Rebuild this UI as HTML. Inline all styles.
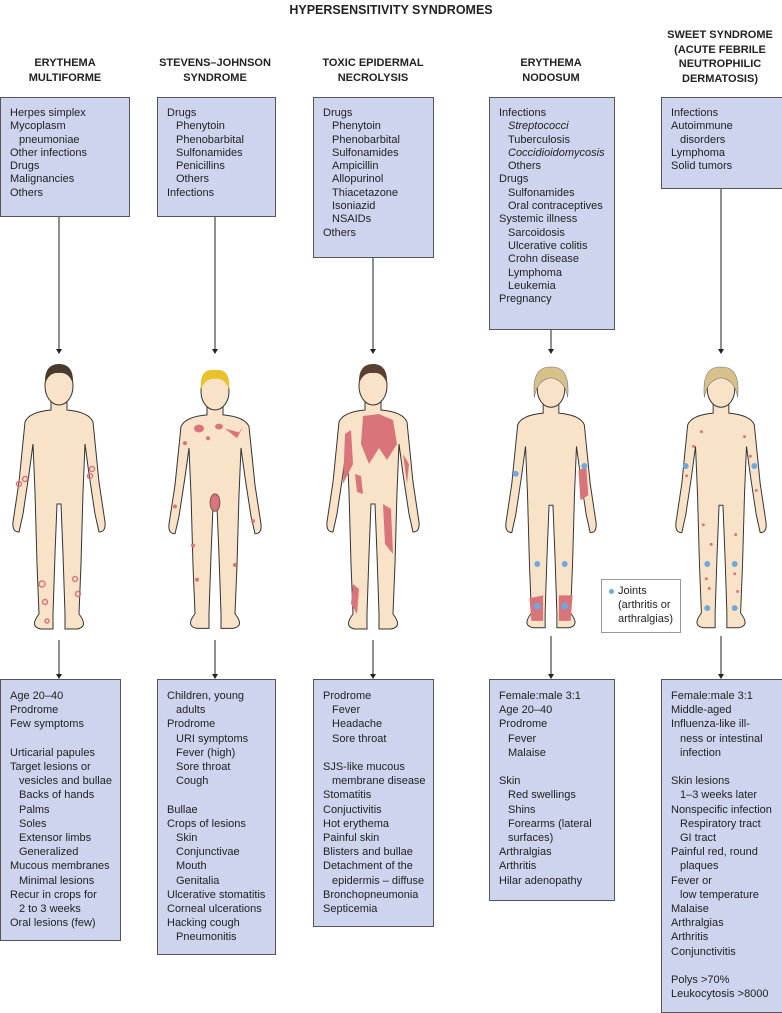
<!DOCTYPE html>
<html><head><meta charset="utf-8"><style>
body{margin:0;background:#fff;width:782px;height:1013px;position:relative;overflow:hidden;font-family:"Liberation Sans",sans-serif;color:#222}
.t{position:absolute;left:0;width:782px;top:3px;text-align:center;font-weight:bold;font-size:12.5px}
.h{position:absolute;text-align:center;font-weight:bold;font-size:11px;line-height:14.5px}
.b{position:absolute;box-sizing:border-box;background:#ced4ee;border:1px solid #555;font-size:11px;padding:9px 0 0 9px;white-space:nowrap}
.top{line-height:13.3px}
.bot{line-height:14.2px}
.i{padding-left:9px}
.e{height:14.2px}
em{font-style:italic}
svg{position:absolute;left:0;top:0}
.lg{position:absolute;left:601px;top:579px;width:80px;height:54px;box-sizing:border-box;border:1px solid #999;background:#fff;font-size:11px;line-height:14px;padding:4px 0 0 16px}
.lg .d{position:absolute;left:7px;top:9px;width:5px;height:5px;border-radius:50%;background:#6fa8dc}
</style></head><body>
<div class="t">HYPERSENSITIVITY SYNDROMES</div>

<div class="h" style="left:0;width:130px;top:56px">ERYTHEMA<br>MULTIFORME</div>
<div class="h" style="left:145px;width:140px;top:56px">STEVENS–JOHNSON<br>SYNDROME</div>
<div class="h" style="left:303px;width:140px;top:56px">TOXIC EPIDERMAL<br>NECROLYSIS</div>
<div class="h" style="left:480px;width:142px;top:56px">ERYTHEMA<br>NODOSUM</div>
<div class="h" style="left:655px;width:130px;top:28px">SWEET SYNDROME<br>(ACUTE FEBRILE<br>NEUTROPHILIC<br>DERMATOSIS)</div>

<div class="b top" style="left:0;top:97px;width:130px;height:120px">
<div>Herpes simplex</div><div>Mycoplasm</div><div class="i">pneumoniae</div><div>Other infections</div><div>Drugs</div><div>Malignancies</div><div>Others</div></div>
<div class="b top" style="left:157px;top:97px;width:119px;height:120px">
<div>Drugs</div><div class="i">Phenytoin</div><div class="i">Phenobarbital</div><div class="i">Sulfonamides</div><div class="i">Penicillins</div><div class="i">Others</div><div>Infections</div></div>
<div class="b top" style="left:313px;top:97px;width:121px;height:161px">
<div>Drugs</div><div class="i">Phenytoin</div><div class="i">Phenobarbital</div><div class="i">Sulfonamides</div><div class="i">Ampicillin</div><div class="i">Allopurinol</div><div class="i">Thiacetazone</div><div class="i">Isoniazid</div><div class="i">NSAIDs</div><div>Others</div></div>
<div class="b top" style="left:489px;top:97px;width:126px;height:233px">
<div>Infections</div><div class="i"><em>Streptococci</em></div><div class="i">Tuberculosis</div><div class="i"><em>Coccidioidomycosis</em></div><div class="i">Others</div><div>Drugs</div><div class="i">Sulfonamides</div><div class="i">Oral contraceptives</div><div>Systemic illness</div><div class="i">Sarcoidosis</div><div class="i">Ulcerative colitis</div><div class="i">Crohn disease</div><div class="i">Lymphoma</div><div class="i">Leukemia</div><div>Pregnancy</div></div>
<div class="b top" style="left:661px;top:97px;width:122px;height:92px">
<div>Infections</div><div>Autoimmune</div><div class="i">disorders</div><div>Lymphoma</div><div>Solid tumors</div></div>

<div class="b bot" style="left:0;top:679px;width:121px;height:262px">
<div>Age 20–40</div><div>Prodrome</div><div>Few symptoms</div><div class="e"></div><div>Urticarial papules</div><div>Target lesions or</div><div class="i">vesicles and bullae</div><div class="i">Backs of hands</div><div class="i">Palms</div><div class="i">Soles</div><div class="i">Extensor limbs</div><div class="i">Generalized</div><div>Mucous membranes</div><div class="i">Minimal lesions</div><div>Recur in crops for</div><div class="i">2 to 3 weeks</div><div>Oral lesions (few)</div></div>
<div class="b bot" style="left:157px;top:679px;width:119px;height:276px">
<div>Children, young</div><div class="i">adults</div><div>Prodrome</div><div class="i">URI symptoms</div><div class="i">Fever (high)</div><div class="i">Sore throat</div><div class="i">Cough</div><div class="e"></div><div>Bullae</div><div>Crops of lesions</div><div class="i">Skin</div><div class="i">Conjunctivae</div><div class="i">Mouth</div><div class="i">Genitalia</div><div>Ulcerative stomatitis</div><div>Corneal ulcerations</div><div>Hacking cough</div><div class="i">Pneumonitis</div></div>
<div class="b bot" style="left:313px;top:679px;width:121px;height:248px">
<div>Prodrome</div><div class="i">Fever</div><div class="i">Headache</div><div class="i">Sore throat</div><div class="e"></div><div>SJS-like mucous</div><div class="i">membrane disease</div><div>Stomatitis</div><div>Conjuctivitis</div><div>Hot erythema</div><div>Painful skin</div><div>Blisters and bullae</div><div>Detachment of the</div><div class="i">epidermis – diffuse</div><div>Bronchopneumonia</div><div>Septicemia</div></div>
<div class="b bot" style="left:489px;top:679px;width:126px;height:222px">
<div>Female:male 3:1</div><div>Age 20–40</div><div>Prodrome</div><div class="i">Fever</div><div class="i">Malaise</div><div class="e"></div><div>Skin</div><div class="i">Red swellings</div><div class="i">Shins</div><div class="i">Forearms (lateral</div><div class="i">surfaces)</div><div>Arthralgias</div><div>Arthritis</div><div>Hilar adenopathy</div></div>
<div class="b bot" style="left:661px;top:679px;width:122px;height:334px">
<div>Female:male 3:1</div><div>Middle-aged</div><div>Influenza-like ill-</div><div class="i">ness or intestinal</div><div class="i">infection</div><div class="e"></div><div>Skin lesions</div><div class="i">1–3 weeks later</div><div>Nonspecific infection</div><div class="i">Respiratory tract</div><div class="i">GI tract</div><div>Painful red, round</div><div class="i">plaques</div><div>Fever or</div><div class="i">low temperature</div><div>Malaise</div><div>Arthralgias</div><div>Arthritis</div><div>Conjunctivitis</div><div class="e"></div><div>Polys &gt;70%</div><div>Leukocytosis &gt;8000</div></div>

<div class="lg"><span class="d"></span>Joints<br>(arthritis or<br>arthralgias)</div>

<svg width="782" height="1013" viewBox="0 0 782 1013">
<defs>
<marker id="a" markerWidth="6" markerHeight="6" refX="3" refY="5" orient="auto" markerUnits="userSpaceOnUse"><path d="M0,0 L6,0 L3,5 Z" fill="#222" transform="rotate(0)"/></marker>
<path id="body" d="M-8,36 L-8,46 Q-30,48 -34,58 L-40,118 L-46,158 Q-47,168 -40,168 L-36,150 L-30,110 L-26,80 L-24,128 L-22,200 L-20,250 Q-30,263 -18,265 L-6,265 L-6,250 L-4,190 L-2,140 L2,140 L4,190 L6,250 L6,265 L18,265 Q30,263 20,250 L22,200 L24,128 L26,80 L30,110 L36,150 L40,168 Q47,168 46,158 L40,118 L34,58 Q30,48 8,46 L8,36 Z" fill="#f8e3c8" stroke="#333" stroke-width="1"/>
</defs>
<g stroke="#222" stroke-width="1">
<line x1="59" y1="217" x2="59" y2="351"/><line x1="215" y1="217" x2="215" y2="351"/><line x1="373" y1="258" x2="373" y2="351"/><line x1="551" y1="330" x2="551" y2="351"/><line x1="721" y1="189" x2="721" y2="351"/>
<line x1="59" y1="640" x2="59" y2="677"/><line x1="215" y1="640" x2="215" y2="677"/><line x1="373" y1="640" x2="373" y2="677"/><line x1="551" y1="636" x2="551" y2="677"/><line x1="721" y1="636" x2="721" y2="677"/>
</g>
<g fill="#222">
<path d="M56,349 h6 l-3,5z"/><path d="M212,349 h6 l-3,5z"/><path d="M370,349 h6 l-3,5z"/><path d="M548,349 h6 l-3,5z"/><path d="M718,349 h6 l-3,5z"/>
<path d="M56,674 h6 l-3,5z"/><path d="M212,674 h6 l-3,5z"/><path d="M370,674 h6 l-3,5z"/><path d="M548,674 h6 l-3,5z"/><path d="M718,674 h6 l-3,5z"/>
</g>
<!-- figures -->
<g transform="translate(59,364)"><use href="#body"/><ellipse cx="0" cy="22" rx="14" ry="19" fill="#f8e3c8" stroke="#333"/><path d="M-14,20 Q-15,0 0,0 Q15,0 14,20 Q10,8 0,9 Q-10,8 -14,20Z" fill="#4a3a2e"/>
<g fill="none" stroke="#d9757a" stroke-width="1.5"><circle cx="-40" cy="120" r="2.5"/><circle cx="-34" cy="115" r="2.5"/><circle cx="33" cy="105" r="2.5"/><circle cx="31" cy="112" r="2.5"/><circle cx="-17" cy="220" r="3"/><circle cx="-14" cy="238" r="2.5"/><circle cx="16" cy="215" r="2.5"/><circle cx="19" cy="230" r="2.5"/><circle cx="-12" cy="257" r="2"/></g></g>
<g transform="translate(215,370) scale(1,0.975)"><use href="#body"/><ellipse cx="0" cy="22" rx="14" ry="19" fill="#f8e3c8" stroke="#333"/><path d="M-14,20 Q-16,-2 0,0 Q16,-2 14,20 Q10,8 0,9 Q-10,8 -14,20Z" fill="#e8c22a"/>
<g fill="#d9757a"><ellipse cx="-16" cy="60" rx="5" ry="4"/><ellipse cx="4" cy="58" rx="4" ry="3"/><path d="M10,60 L24,64 L28,58 L22,70 Z"/><circle cx="-7" cy="70" r="2"/><circle cx="-30" cy="75" r="2"/><ellipse cx="0" cy="136" rx="5" ry="9" stroke="#333" stroke-width=".6"/><circle cx="-22" cy="180" r="2"/><circle cx="20" cy="200" r="2"/><circle cx="-18" cy="215" r="2"/><circle cx="-40" cy="140" r="2"/><circle cx="38" cy="155" r="2"/></g></g>
<g transform="translate(373,364)"><use href="#body"/><ellipse cx="0" cy="22" rx="14" ry="19" fill="#f8e3c8" stroke="#333"/><path d="M-14,20 Q-15,0 0,0 Q15,0 14,20 Q10,8 0,9 Q-10,8 -14,20Z" fill="#5a4030"/>
<g fill="#d9757a"><path d="M-10,52 L6,50 L20,56 L24,80 L14,96 L6,84 L-4,100 L-12,80 Z"/><path d="M-28,70 L-22,66 L-20,100 L-30,120 Z"/><path d="M-18,110 L-12,112 L-10,130 L-16,128 Z"/><path d="M10,140 L18,145 L20,190 L12,180 Z"/><path d="M-20,220 L-14,225 L-16,250 L-22,240 Z"/><path d="M30,90 L36,100 L34,120 Z"/></g></g>
<g transform="translate(551,368) scale(0.98)"><use href="#body"/><ellipse cx="0" cy="22" rx="14" ry="18" fill="#f8e3c8" stroke="#333"/><path d="M-17,30 Q-20,-2 0,-1 Q20,-2 17,30 Q14,12 0,10 Q-14,12 -17,30Z" fill="#d8c08a" stroke="#777" stroke-width=".6"/>
<g fill="#d9757a"><path d="M28,105 L36,100 L38,130 L30,135 Z"/><path d="M-22,235 L-8,232 L-8,258 L-20,258 Z"/><path d="M8,232 L22,232 L20,258 L8,258 Z"/></g>
<g fill="#6fa8dc"><circle cx="-36" cy="108" r="3"/><circle cx="34" cy="100" r="3"/><circle cx="-14" cy="200" r="3"/><circle cx="14" cy="200" r="3"/><circle cx="-14" cy="243" r="3.5"/><circle cx="14" cy="243" r="3.5"/></g></g>
<g transform="translate(721,368) scale(0.98)"><use href="#body"/><ellipse cx="0" cy="22" rx="14" ry="18" fill="#f8e3c8" stroke="#333"/><path d="M-17,30 Q-20,-2 0,-1 Q20,-2 17,30 Q14,12 0,10 Q-14,12 -17,30Z" fill="#d8c08a" stroke="#777" stroke-width=".6"/>
<g fill="#d9757a"><circle cx="-20" cy="65" r="1.5"/><circle cx="-28" cy="80" r="1.5"/><circle cx="24" cy="70" r="1.5"/><circle cx="30" cy="90" r="1.5"/><circle cx="-35" cy="110" r="1.5"/><circle cx="36" cy="125" r="1.5"/><circle cx="-15" cy="215" r="1.5"/><circle cx="-12" cy="225" r="1.5"/><circle cx="14" cy="210" r="1.5"/><circle cx="17" cy="228" r="1.5"/><circle cx="-18" cy="160" r="1.5"/><circle cx="15" cy="170" r="1.5"/><circle cx="-10" cy="180" r="1.5"/></g>
<g fill="#6fa8dc"><circle cx="-36" cy="100" r="3"/><circle cx="34" cy="100" r="3"/><circle cx="-14" cy="200" r="3"/><circle cx="14" cy="200" r="3"/><circle cx="-14" cy="245" r="3"/><circle cx="14" cy="245" r="3"/></g></g>
</svg>
</body></html>
